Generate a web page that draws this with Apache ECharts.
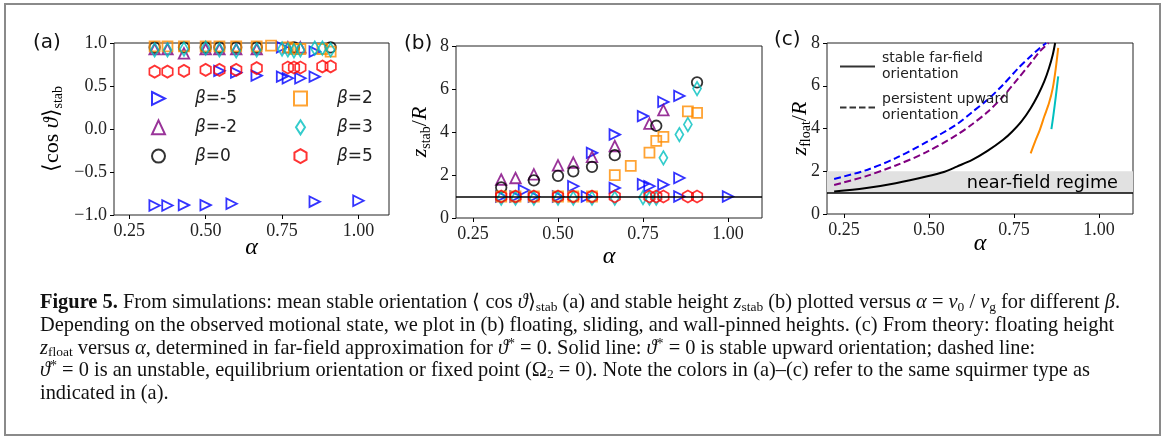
<!DOCTYPE html>
<html><head><meta charset="utf-8">
<script src="https://cdn.jsdelivr.net/npm/echarts@6/dist/echarts.min.js"></script>
<style>html,body{margin:0;padding:0;background:#fff}#c{width:1165px;height:439px}</style>
</head><body><div id="c"></div>
<script>
// ---------- data ----------
const xTicks = [0.25, 0.5, 0.75, 1.0];
const betaNames = ['β=-5', 'β=-2', 'β=0', 'β=2', 'β=3', 'β=5'];

// panel (a): <cos theta>_stab vs alpha
const aBm5 = [[0.333,-0.89],[0.375,-0.89],[0.429,-0.885],[0.5,-0.885],[0.585,-0.87],[0.857,-0.845],[1.0,-0.835],
  [0.545,0.676],[0.6,0.656],[0.667,0.621],[0.75,0.609],[0.769,0.59],[0.81,0.59],[0.857,0.609],[0.75,0.95],[0.857,0.90]];
const aBm2 = [[0.333,0.93],[0.375,0.93],[0.429,0.88],[0.5,0.93],[0.545,0.93],[0.6,0.93],[0.667,0.93],[0.769,0.95],[0.81,0.95]];
const aB0 = [[0.333,0.95],[0.429,0.95],[0.5,0.95],[0.545,0.95],[0.6,0.95],[0.667,0.95],[0.789,0.95],[0.909,0.95]];
const aB2 = [[0.333,0.96],[0.375,0.96],[0.429,0.96],[0.5,0.96],[0.545,0.96],[0.6,0.96],[0.667,0.96],[0.714,0.97],[0.769,0.95],[0.789,0.93],[0.81,0.93],[0.882,0.93],[0.909,0.90]];
const aB3 = [[0.333,0.92],[0.375,0.92],[0.429,0.93],[0.5,0.94],[0.545,0.92],[0.6,0.91],[0.667,0.92],[0.75,0.93],[0.769,0.92],[0.789,0.91],[0.81,0.92],[0.857,0.94],[0.882,0.94],[0.909,0.92]];
const aB5 = [[0.333,0.668],[0.375,0.668],[0.429,0.676],[0.5,0.688],[0.545,0.688],[0.6,0.688],[0.667,0.707],[0.769,0.715],[0.789,0.715],[0.81,0.715],[0.882,0.727],[0.909,0.727]];

// panel (b): z_stab/R vs alpha
const bBm5 = [[0.333,1.0],[0.375,1.0],[0.4,1.29],[0.429,1.0],[0.5,1.0],[0.545,1.48],[0.585,1.0],[0.6,3.03],[0.667,3.88],[0.667,1.40],[0.75,4.74],[0.75,1.57],[0.769,1.48],[0.81,5.40],[0.81,1.55],[0.857,5.68],[0.857,1.86],[0.857,1.0],[1.0,1.0]];
const bBm2 = [[0.333,1.79],[0.375,1.86],[0.429,2.03],[0.5,2.45],[0.545,2.58],[0.6,2.84],[0.667,3.35],[0.769,4.39],[0.81,5.02]];
const bB0 = [[0.333,1.42],[0.429,1.75],[0.5,1.96],[0.545,2.17],[0.6,2.38],[0.667,2.92],[0.789,4.29],[0.909,6.31]];
const bB2 = [[0.333,1.0],[0.375,1.0],[0.429,1.0],[0.5,1.0],[0.545,1.0],[0.6,1.0],[0.667,1.99],[0.714,2.42],[0.769,3.04],[0.789,3.59],[0.81,3.77],[0.882,4.96],[0.909,4.89]];
const bB3 = [[0.333,0.92],[0.375,0.92],[0.429,0.92],[0.5,0.92],[0.545,0.92],[0.6,0.92],[0.667,0.92],[0.75,0.95],[0.769,0.92],[0.789,0.92],[0.81,2.80],[0.857,3.88],[0.882,4.35],[0.909,6.02]];
const bB5 = [[0.333,1.0],[0.375,1.0],[0.429,1.0],[0.5,1.0],[0.545,1.0],[0.6,1.0],[0.667,1.0],[0.769,1.0],[0.789,1.0],[0.81,1.0],[0.882,1.0],[0.909,1.0]];

// panel (c): z_float/R vs alpha (theory curves)
const cBm5 = [[0.221,1.64],[0.311,2.03],[0.402,2.61],[0.492,3.36],[0.582,4.2],[0.627,4.77],[0.672,5.34],[0.718,6.05],[0.763,6.83],[0.799,7.38],[0.826,7.77],[0.845,8.0]];
const cBm2 = [[0.221,1.36],[0.311,1.75],[0.402,2.27],[0.492,2.89],[0.582,3.70],[0.627,4.2],[0.672,4.77],[0.718,5.5],[0.763,6.36],[0.799,7.06],[0.826,7.61],[0.852,8.0]];
const cB0 = [[0.221,1.05],[0.311,1.20],[0.402,1.44],[0.492,1.75],[0.546,1.98],[0.582,2.22],[0.627,2.53],[0.672,2.95],[0.718,3.47],[0.745,3.86],[0.772,4.33],[0.799,4.95],[0.821,5.58],[0.839,6.2],[0.853,6.83],[0.864,7.45],[0.871,8.0]];
const cB2 = [[0.799,2.84],[0.812,3.39],[0.826,3.94],[0.839,4.56],[0.853,5.19],[0.864,5.89],[0.873,6.83],[0.880,7.77]];
const cB3 = [[0.860,3.97],[0.866,4.64],[0.873,5.5],[0.880,6.44]];
const nearField = [1, 2];
const wallLine = 1;

// ---------- styling ----------
const COL = {m5:'#0000ff', m2:'#800080', z0:'#000000', p2:'#ff8c00', p3:'#00bfbf', p5:'#ff0000'};
const HEX = 'path://M0,-1L0.866,-0.5L0.866,0.5L0,1L-0.866,0.5L-0.866,-0.5Z';
const TRI_R = 'path://M0,0L1,0.5L0,1Z';
const DIA = 'path://M4.5,0L9,7L4.5,14L0,7Z';
const SERIF = 'Liberation Serif';
const SANS = 'DejaVu Sans';
const mk = {
  m5:{symbol:'triangle', symbolRotate:-90, symbolSize:10.5, c:COL.m5, icon:TRI_R},
  m2:{symbol:'triangle', symbolRotate:0, symbolSize:10.5, c:COL.m2, icon:'triangle'},
  z0:{symbol:'circle', symbolRotate:0, symbolSize:10.5, c:COL.z0, icon:'circle'},
  p2:{symbol:'rect', symbolRotate:0, symbolSize:10, c:COL.p2, icon:'rect'},
  p3:{symbol:'diamond', symbolRotate:0, symbolSize:[8,13.5], c:COL.p3, icon:DIA},
  p5:{symbol:HEX, symbolRotate:0, symbolSize:[10.5,12], c:COL.p5, icon:HEX}
};
const keys = ['m5','m2','z0','p2','p3','p5'];
function scat(name, key, data, idx){
  const m = mk[key];
  return {type:'scatter', name, xAxisIndex:idx, yAxisIndex:idx, data,
    symbol:m.symbol, symbolRotate:m.symbolRotate, symbolSize:m.symbolSize,
    itemStyle:{color:'rgba(0,0,0,0)', borderColor:m.c, borderWidth:1.8}, emphasis:{disabled:true}, z:3};
}
function xAx(idx, nameGap){
  return {type:'value', gridIndex:idx, min:0.2, max:1.1,
    name:'{i|α}', nameLocation:'middle', nameGap, nameMoveOverlap:false,
    nameTextStyle:{rich:{i:{fontFamily:SERIF, fontStyle:'italic', fontSize:24, color:'#000'}}},
    axisLine:{show:false, onZero:false}, splitLine:{show:false},
    axisTick:{show:true, length:4, lineStyle:{color:'#000'}, customValues:xTicks},
    axisLabel:{customValues:xTicks, formatter:v=>v.toFixed(2), fontFamily:SERIF, fontSize:18, color:'#222', margin:7}};
}
const richY = {
  n:{fontFamily:SERIF, fontSize:22, color:'#000', lineHeight:26},
  i:{fontFamily:SERIF, fontStyle:'italic', fontSize:22, color:'#000', lineHeight:26},
  s:{fontFamily:SERIF, fontSize:14, color:'#000', lineHeight:14, verticalAlign:'bottom'}
};
function yAx(idx, opts){
  return Object.assign({type:'value', gridIndex:idx,
    nameLocation:'middle', nameMoveOverlap:false, nameTextStyle:{rich:richY},
    axisLine:{show:false, onZero:false}, splitLine:{show:false},
    axisTick:{show:true, length:4, lineStyle:{color:'#000'}},
    axisLabel:{fontFamily:SERIF, fontSize:18, color:'#222', margin:7}}, opts);
}
const gridBox = {show:true, borderColor:'#222', borderWidth:1, backgroundColor:'rgba(0,0,0,0)'};

const CAP = 20.4;
const capRich = {
  b:{fontFamily:SERIF, fontWeight:'bold', fontSize:CAP, lineHeight:22},
  i:{fontFamily:SERIF, fontStyle:'italic', fontSize:CAP, lineHeight:22},
  s:{fontFamily:SERIF, fontSize:13.5, lineHeight:12, verticalAlign:'bottom'},
  p:{fontFamily:SERIF, fontSize:14, lineHeight:13, verticalAlign:'top'}
};
const captionLines = [
  '{b|Figure 5.} From simulations: mean stable orientation ⟨ cos {i|ϑ}⟩{s|stab} (a) and stable height {i|z}{s|stab} (b) plotted versus {i|α} = {i|v}{s|0} / {i|v}{s|g} for different {i|β}.',
  'Depending on the observed motional state, we plot in (b) floating, sliding, and wall-pinned heights. (c) From theory: floating height',
  '{i|z}{s|float} versus {i|α}, determined in far-field approximation for {i|ϑ}{p|*} = 0. Solid line: {i|ϑ}{p|*} = 0 is stable upward orientation; dashed line:',
  '{i|ϑ}{p|*} = 0 is an unstable, equilibrium orientation or fixed point (Ω{s|2} = 0). Note the colors in (a)–(c) refer to the same squirmer type as',
  'indicated in (a).'
];

const chart = echarts.init(document.getElementById('c'), null, {renderer:'canvas'});
const legendA = (left, idxs) => ({
  left, top:85, orient:'vertical', itemWidth:13, itemHeight:14, itemGap:11.8,
  data: idxs.map(k => ({name:betaNames[k], icon:mk[keys[k]].icon})),
  formatter: n => '{g|β}{n|' + n.slice(1) + '}',
  textStyle:{padding:[0,0,0,25], lineHeight:12, rich:{
    g:{fontFamily:SANS, fontStyle:'italic', fontSize:17, color:'#222', lineHeight:12},
    n:{fontFamily:SANS, fontSize:17, color:'#222', lineHeight:12}}},
  selectedMode:false
});
const DASH_ICON = 'path://M0,0h6.5v2h-6.5z M9.5,0h6.5v2h-6.5z M19,0h6.5v2h-6.5z M28.5,0h6.5v2h-6.5z';
const option = {
  animation:false,
  grid:[
    Object.assign({left:114, top:43, width:275, height:172}, gridBox),
    Object.assign({left:456, top:46, width:306, height:172}, gridBox),
    Object.assign({left:827, top:43, width:306, height:171}, gridBox)
  ],
  xAxis:[xAx(0,21), xAx(1,27), xAx(2,18)],
  yAxis:[
    yAx(0,{min:-1, max:1, interval:0.5, name:'{n|⟨cos }{i|ϑ}{n|⟩}{s|stab}', nameGap:49,
      axisLabel:{fontFamily:SERIF, fontSize:18, color:'#222', margin:7,
        formatter:v=>(v<0?'−':'')+Math.abs(v).toFixed(1)}}),
    yAx(1,{min:0, max:8, interval:2, name:'{i|z}{s|stab}{n|/}{i|R}', nameGap:23}),
    yAx(2,{min:0, max:8, interval:2, name:'{i|z}{s|float}{n|/}{i|R}', nameGap:14})
  ],
  legend:[
    legendA(146, [0,1,2]),
    legendA(288, [3,4,5]),
    {left:835, top:45, orient:'vertical',
      data:[{name:'stable far-field\norientation', icon:'path://M0,0h35v2h-35z'},
            {name:'persistent upward\norientation', icon:DASH_ICON}],
      itemWidth:35, itemHeight:2, itemGap:8, selectedMode:false, symbolKeepAspect:true,
      textStyle:{fontFamily:SANS, fontSize:14, lineHeight:16.5, color:'#222', padding:[0,0,0,2]}}
  ],
  graphic:[
    {type:'rect', shape:{x:5, y:4, width:1155, height:431}, style:{fill:'none', stroke:'#8a8a8a', lineWidth:2}, silent:true},
    {type:'text', left:33, top:33, style:{text:'(a)', fontFamily:SANS, fontSize:20, fill:'#111'}},
    {type:'text', left:404, top:34, style:{text:'(b)', fontFamily:SANS, fontSize:20, fill:'#111'}},
    {type:'text', left:774, top:30, style:{text:'(c)', fontFamily:SANS, fontSize:20, fill:'#111'}}
  ].concat(captionLines.map((t,k)=>({type:'text', left:40, top:292 + k*22.6,
      style:{text:t, fontFamily:SERIF, fontSize:CAP, lineHeight:22, fill:'#111', rich:capRich}}))),
  series:[
    scat(betaNames[0],'m5',aBm5,0), scat(betaNames[1],'m2',aBm2,0), scat(betaNames[2],'z0',aB0,0),
    scat(betaNames[3],'p2',aB2,0), scat(betaNames[4],'p3',aB3,0), scat(betaNames[5],'p5',aB5,0),
    Object.assign(scat(betaNames[0],'m5',bBm5,1), {markLine:{silent:true, symbol:'none', label:{show:false},
      lineStyle:{color:'#000', type:'solid', width:1.5}, data:[{yAxis:wallLine}]}, z:2}),
    scat(betaNames[1],'m2',bBm2,1), scat(betaNames[2],'z0',bB0,1),
    scat(betaNames[3],'p2',bB2,1), scat(betaNames[4],'p3',bB3,1), scat(betaNames[5],'p5',bB5,1),
    {type:'line', name:'c-5', xAxisIndex:2, yAxisIndex:2, data:cBm5, symbol:'none', smooth:0.3,
      lineStyle:{color:COL.m5, width:2, type:[7,3.5]},
      markArea:{silent:true, itemStyle:{color:'#e1e1e1'},
        label:{show:true, position:'insideRight', offset:[-10,1], fontFamily:SANS, fontSize:17.7, color:'#000'},
        data:[[{yAxis:nearField[0], name:'near-field regime'},{yAxis:nearField[1]}]]},
      markLine:{silent:true, symbol:'none', label:{show:false}, lineStyle:{color:'#000', type:'solid', width:1.5}, data:[{yAxis:wallLine}]}},
    {type:'line', name:'c-2', xAxisIndex:2, yAxisIndex:2, data:cBm2, symbol:'none', smooth:0.3,
      lineStyle:{color:COL.m2, width:2, type:[7,3.5]}},
    {type:'line', name:'c0', xAxisIndex:2, yAxisIndex:2, data:cB0, symbol:'none', smooth:0.3,
      lineStyle:{color:COL.z0, width:2}},
    {type:'line', name:'c2', xAxisIndex:2, yAxisIndex:2, data:cB2, symbol:'none', smooth:0.3,
      lineStyle:{color:COL.p2, width:2}},
    {type:'line', name:'c3', xAxisIndex:2, yAxisIndex:2, data:cB3, symbol:'none', smooth:0.3,
      lineStyle:{color:COL.p3, width:2}},
    {type:'scatter', name:'stable far-field\norientation', xAxisIndex:2, yAxisIndex:2, data:[],
      itemStyle:{color:'#000'}},
    {type:'scatter', name:'persistent upward\norientation', xAxisIndex:2, yAxisIndex:2, data:[],
      itemStyle:{color:'#000'}}
  ]
};
chart.setOption(option);
</script></body></html>
